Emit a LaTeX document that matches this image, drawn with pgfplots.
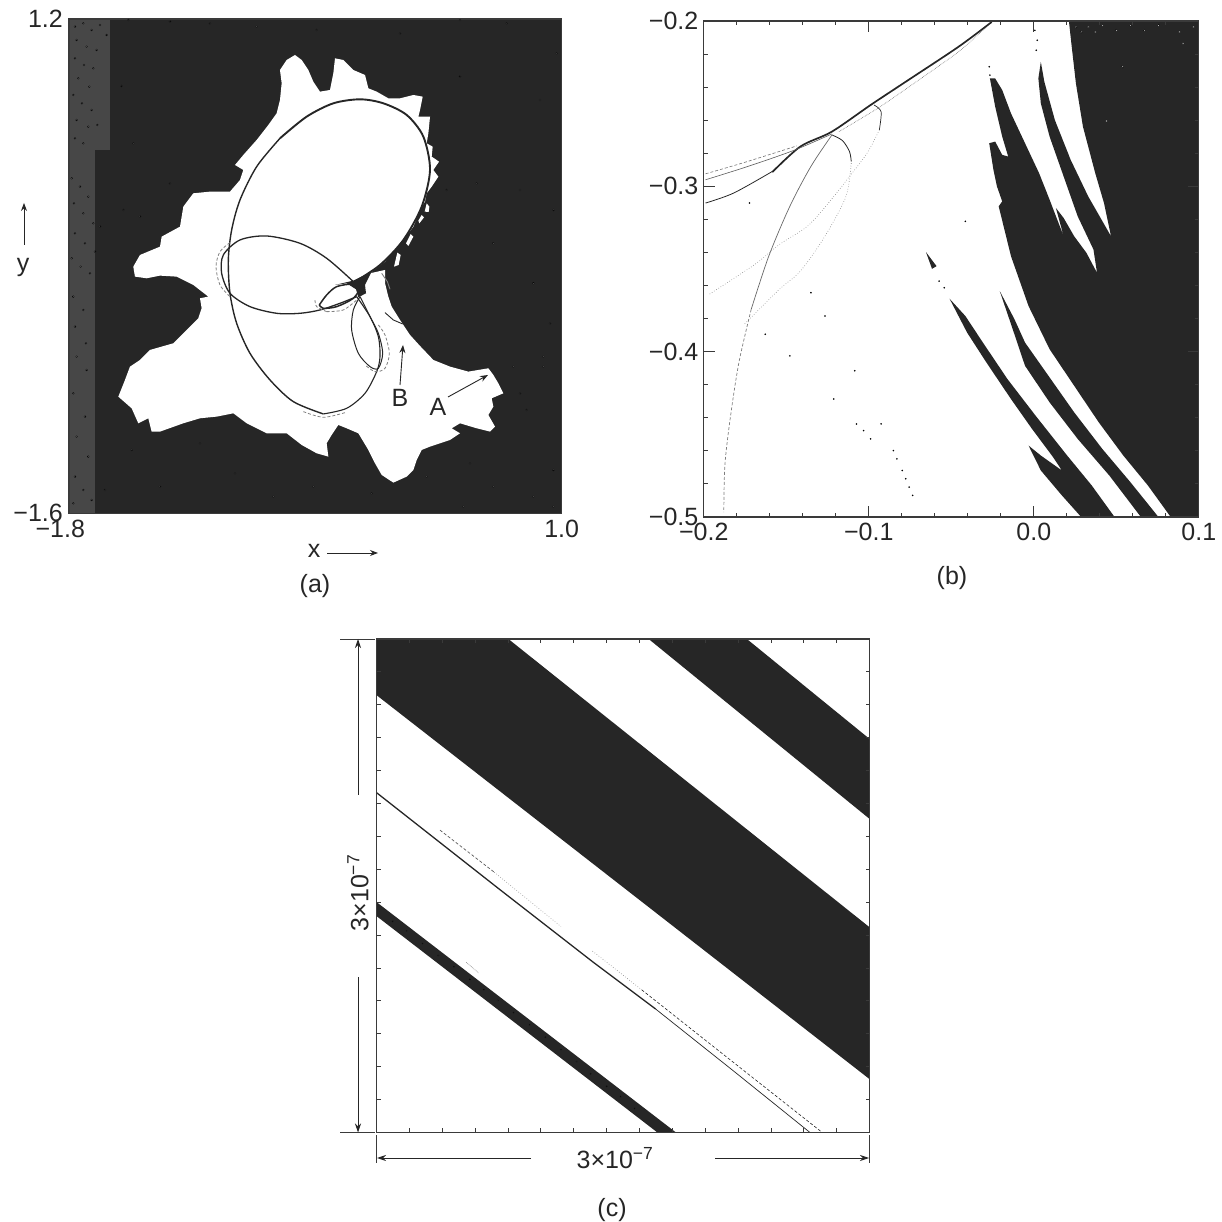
\documentclass[border=0pt]{standalone}
\usepackage{fontspec}
\setmainfont{Liberation Sans}
\usepackage{pgfplots}
\pgfplotsset{compat=1.18}
\usetikzlibrary{arrows.meta}
\definecolor{ink}{HTML}{262626}
\definecolor{frame}{HTML}{3A3A3A}
\def\ax{-1.8+(\thisrowno{0}-25)*2.8/1480}
\def\ay{1.2-(\thisrowno{1}-27)*2.8/1483}
\def\bx{-0.2+(\thisrowno{0}-125)*0.1/470}
\def\by{-0.2-(\thisrowno{1}-32)*0.3/1493}
\def\cx{3*(\thisrowno{0}-104)/1406}
\def\cy{3*(1447-\thisrowno{1})/1407}
\newcommand{\lab}{\fontsize{25}{28}\selectfont}
\pgfplotsset{
  panel/.style={scale only axis, axis on top, clip=true,
    axis line style={frame,line width=1.1pt},
    tick label style={font=\lab,text=ink},
    tick style={frame,line width=0.9pt}},
  apl/.style={x expr=\ax,y expr=\ay,row sep=\\}}
\begin{document}
\begin{tikzpicture}[x=1pt,y=1pt]
\path[use as bounding box] (0,0) rectangle (1222,1222);
%% ---------------- panel (a) ----------------
\begin{axis}[panel, at={(68.3pt,708.7pt)}, anchor=south west, width=493.4pt, height=494.3pt,
  xmin=-1.8,xmax=1.0,ymin=-1.6,ymax=1.2,
  axis background/.style={fill=ink},
  xtick={-1.8,1.0}, ytick={-1.6,1.2}, major tick length=0pt,
  xticklabels={{\makebox[0pt][c]{\hspace{-16pt}−1.8}},1.0},
  yticklabels={−1.6,1.2},
  xticklabel style={yshift=-3pt}, yticklabel style={xshift=-2pt}]
\addplot[fill=black!72,draw=none] table[x expr=\ax,y expr=\ay,row sep=\\]{28 27\\150 27\\150 420\\105 420\\105 1510\\28 1510\\28 27\\};
% basin of attraction, white
\addplot[fill=white,draw=none] table[x expr=\ax,y expr=\ay,row sep=\\]{
660 180\\680 150\\705 135\\725 150\\745 180\\760 215\\780 245\\810 240\\820 190\\825 145\\850 150\\880 180\\915 195\\925 235\\950 245\\985 265\\1020 265\\1060 255\\1088 260\\1080 300\\1075 320\\1110 320\\1105 370\\1100 400\\1118 410\\1115 440\\1137 455\\1120 480\\1135 500\\1115 530\\1100 550\\1095 575\\1085 590\\1060 650\\1030 690\\1000 725\\975 755\\930 790\\975 780\\975 820\\985 860\\995 890\\1020 930\\1050 975\\1080 1008\\1120 1050\\1170 1070\\1225 1085\\1285 1075\\1300 1095\\1315 1120\\1330 1150\\1295 1165\\1300 1190\\1285 1215\\1305 1250\\1290 1265\\1250 1255\\1200 1240\\1175 1255\\1200 1270\\1170 1290\\1110 1310\\1085 1320\\1070 1350\\1060 1380\\1040 1400\\1000 1418\\965 1395\\945 1360\\925 1320\\895 1270\\860 1255\\835 1245\\815 1275\\800 1300\\805 1340\\770 1330\\725 1305\\680 1270\\620 1270\\560 1240\\520 1210\\470 1220\\420 1225\\370 1240\\300 1265\\275 1265\\265 1225\\235 1240\\215 1195\\175 1160\\195 1110\\210 1070\\240 1050\\270 1020\\340 1000\\385 955\\415 925\\425 895\\420 865\\445 860\\400 825\\350 800\\300 797\\260 805\\225 800\\220 770\\240 735\\300 710\\305 680\\360 650\\370 590\\400 550\\450 545\\510 545\\540 510\\550 480\\525 465\\550 435\\590 390\\625 345\\650 310\\660 270\\665 220\\660 180\\};
% small white fingers beyond the edge
\addplot[fill=white,draw=none] table[x expr=\ax,y expr=\ay,row sep=\\]{1100 580\\1108 590\\1106 606\\1094 605\\1100 580\\};
\addplot[fill=white,draw=none] table[x expr=\ax,y expr=\ay,row sep=\\]{1085 615\\1092 622\\1078 640\\1075 632\\1085 615\\};
\addplot[fill=white,draw=none] table[x expr=\ax,y expr=\ay,row sep=\\]{1052 672\\1060 680\\1045 708\\1038 700\\1052 672\\};
\addplot[fill=white,draw=none] table[x expr=\ax,y expr=\ay,row sep=\\]{1012 728\\1022 735\\1016 765\\1002 770\\1012 728\\};
% speckle
\addplot[only marks,mark=*,mark size=0.9pt,mark options={draw=none,fill=white!62!black}] table[x expr=\ax,y expr=\ay,row sep=\\]{
45 50\\70 40\\95 60\\120 45\\140 75\\185 228\\50 90\\80 110\\110 120\\45 145\\72 165\\100 175\\55 205\\88 230\\40 255\\66 280\\95 300\\50 330\\85 350\\112 345\\45 385\\70 400\\35 505\\60 530\\85 560\\42 580\\70 610\\100 640\\120 650\\45 670\\75 700\\105 725\\35 745\\62 770\\90 790\\40 860\\70 900\\45 950\\78 1000\\50 1040\\80 1080\\40 1150\\75 1220\\50 1280\\85 1340\\45 1400\\70 1440\\40 1480\\95 1470\\135 1440\\215 1320\\300 1430\\420 1300\\525 1390\\640 1460\\760 1430\\935 1450\\1210 1490\\1300 1430\\1420 1460\\1480 1490\\1480 1380\\1450 1070\\1360 1070\\1450 1040\\1380 540\\1160 540\\1440 270\\1340 40\\1200 30\\1490 130\\1480 600\\1420 820\\1300 700\\1250 520\\1200 200\\1020 70\\770 60\\590 50\\450 40\\330 35\\205 30\\190 600\\220 400\\240 620\\330 520\\1100 1400\\1230 1360\\1400 1200\\1470 940\\1380 1150\\};
% orbit
\addplot[ink,line width=1.9pt,smooth] table[x expr=\ax,y expr=\ay,row sep=\\]{885 815\\960 765\\1030 690\\1085 590\\1110 480\\1090 380\\1040 315\\970 280\\900 268\\820 280\\740 320\\660 385\\};
\addplot[ink,line width=1.4pt,smooth] table[x expr=\ax,y expr=\ay,row sep=\\]{660 385\\590 470\\540 570\\515 660\\505 750\\510 850\\530 940\\570 1030\\630 1110\\700 1175\\790 1212\\};
\addplot[ink,line width=1.1pt,smooth] table[x expr=\ax,y expr=\ay,row sep=\\]{790 1212\\860 1195\\915 1150\\950 1085\\960 1040\\955 980\\930 920\\890 860\\};
\addplot[ink,line width=1.3pt,smooth] table[x expr=\ax,y expr=\ay,row sep=\\]{880 815\\800 745\\720 700\\620 678\\540 690\\490 735\\485 790\\510 850\\570 890\\650 910\\720 910\\780 900\\840 880\\890 860\\};
\addplot[ink,line width=1.5pt,smooth] table[x expr=\ax,y expr=\ay,row sep=\\]{778 885\\800 855\\830 830\\880 822\\900 832\\880 865\\830 890\\790 895\\778 885\\};
\addplot[ink,line width=1.0pt,smooth] table[x expr=\ax,y expr=\ay,row sep=\\]{900 860\\880 900\\875 960\\895 1030\\930 1070\\955 1075\\968 1030\\955 970\\930 920\\900 860\\};
\addplot[fill=ink,draw=none] table[x expr=\ax,y expr=\ay,row sep=\\]{825 825\\880 812\\935 785\\915 825\\918 850\\895 862\\888 838\\860 820\\825 825\\};
% outer strands
\addplot[gray,line width=0.8pt,densely dashed,smooth] table[x expr=\ax,y expr=\ay,row sep=\\]{510 698\\480 725\\468 770\\480 825\\510 860\\};
\addplot[gray,line width=0.8pt,densely dashed,smooth] table[x expr=\ax,y expr=\ay,row sep=\\]{800 905\\770 890\\765 870\\};
\addplot[gray,line width=0.8pt,densely dashed,smooth] table[x expr=\ax,y expr=\ay,row sep=\\]{800 905\\850 900\\890 870\\};
\addplot[gray,line width=0.8pt,densely dashed,smooth] table[x expr=\ax,y expr=\ay,row sep=\\]{955 945\\975 975\\988 1030\\975 1075\\945 1085\\915 1065\\};
\addplot[gray,line width=0.8pt,densely dashed,smooth] table[x expr=\ax,y expr=\ay,row sep=\\]{730 1205\\790 1222\\855 1208\\};
\addplot[gray,line width=0.9pt] table[x expr=\ax,y expr=\ay,row sep=\\]{965 790\\982 815\\990 838\\};
\addplot[ink,line width=0.9pt] table[x expr=\ax,y expr=\ay,row sep=\\]{975 908\\1000 930\\1028 942\\};
\end{axis}
\draw[-{Stealth[length=8pt,width=6pt]},ink,line width=0.9pt] (400,837) -- (403,877);
\draw[-{Stealth[length=8pt,width=6pt]},ink,line width=0.9pt] (448,825) -- (488,847);
\node[font=\fontsize{25}{28}\selectfont,text=ink] at (400,824) {B};
\node[font=\fontsize{25}{28}\selectfont,text=ink] at (438,815) {A};
\node[font=\lab,text=ink] at (23,954) {y};
\draw[-{Stealth[length=8pt,width=6pt]},ink,line width=0.9pt] (24,977) -- (24,1019);
\node[font=\lab,text=ink] at (314,671) {x};
\draw[-{Stealth[length=8pt,width=6pt]},ink,line width=0.9pt] (327,669) -- (378,669);
\node[font=\lab,text=ink] at (315,636) {(a)};
%% ---------------- panel (b) ----------------
\begin{axis}[panel, at={(703.8pt,705pt)}, anchor=south west, width=495pt, height=496pt,
  xmin=-0.2,xmax=0.1,ymin=-0.5,ymax=-0.2,
  xtick={-0.2,-0.1,0,0.1}, ytick={-0.5,-0.4,-0.3,-0.2},
  xticklabels={−0.2,−0.1,0.0,0.1}, yticklabels={−0.5,−0.4,−0.3,−0.2},
  minor xtick={-0.18,-0.16,-0.14,-0.12,-0.08,-0.06,-0.04,-0.02,0.02,0.04,0.06,0.08},
  minor ytick={-0.48,-0.46,-0.44,-0.42,-0.38,-0.36,-0.34,-0.32,-0.28,-0.26,-0.24,-0.22},
  tick align=inside, major tick length=11pt, minor tick length=4pt,
  xticklabel style={yshift=-3pt}, yticklabel style={xshift=-2pt}]
\addplot[fill=ink,draw=none] table[x expr=\bx,y expr=\by,row sep=\\]{
1165 32\\1535 32\\1535 1525\\1455 1525\\1390 1430\\1320 1340\\1250 1240\\1180 1130\\1110 1020\\1050 890\\1000 740\\965 590\\975 575\\960 530\\950 480\\938 400\\955 395\\975 435\\992 440\\975 380\\955 290\\940 205\\955 205\\975 240\\1000 310\\1040 400\\1080 490\\1110 570\\1130 625\\1150 680\\1128 595\\1150 625\\1180 680\\1215 730\\1245 790\\1235 720\\1190 620\\1150 500\\1110 380\\1085 280\\1078 205\\1085 155\\1095 215\\1125 330\\1170 450\\1220 560\\1285 680\\1265 580\\1240 490\\1205 350\\1185 220\\1172 100\\1165 32\\};
\addplot[fill=ink,draw=none] table[x expr=\bx,y expr=\by,row sep=\\]{968 845\\1010 930\\1040 1000\\1100 1090\\1180 1210\\1260 1320\\1340 1420\\1420 1525\\1370 1525\\1280 1400\\1190 1290\\1110 1180\\1040 1070\\1005 960\\968 845\\};
\addplot[fill=ink,draw=none] table[x expr=\bx,y expr=\by,row sep=\\]{825 868\\870 920\\920 1000\\990 1110\\1070 1220\\1160 1340\\1230 1430\\1295 1525\\1200 1525\\1145 1460\\1085 1385\\1050 1310\\1085 1340\\1145 1385\\1120 1345\\1060 1260\\1000 1170\\930 1060\\875 970\\825 868\\};
\addplot[fill=ink,draw=none] table[x expr=\bx,y expr=\by,row sep=\\]{758 728\\788 770\\775 778\\758 728\\};
% attractor
\addplot[ink,line width=1.7pt,smooth] table[x expr=\bx,y expr=\by,row sep=\\]{320 487\\400 410\\490 365\\600 285\\700 215\\850 110\\945 35\\};
\addplot[ink,line width=0.8pt,smooth] table[x expr=\bx,y expr=\by,row sep=\\]{130 580\\210 550\\320 485\\};
\addplot[ink!75,line width=0.6pt,smooth] table[x expr=\bx,y expr=\by,row sep=\\]{130 510\\250 470\\380 422\\490 372\\};
\addplot[ink!65,line width=0.6pt,smooth,densely dashed] table[x expr=\bx,y expr=\by,row sep=\\]{130 492\\240 458\\390 408\\};
\addplot[ink!65,line width=0.6pt,smooth,densely dotted] table[x expr=\bx,y expr=\by,row sep=\\]{510 365\\620 295\\730 215\\850 125\\930 50\\};
\addplot[ink,line width=0.8pt,smooth] table[x expr=\bx,y expr=\by,row sep=\\]{490 375\\520 392\\540 425\\545 455\\};
\addplot[ink!70,line width=0.7pt,smooth] table[x expr=\bx,y expr=\by,row sep=\\]{490 375\\430 470\\370 590\\310 740\\260 900\\};
\addplot[ink!60,line width=0.7pt,smooth,densely dashed] table[x expr=\bx,y expr=\by,row sep=\\]{260 900\\225 1060\\200 1230\\185 1370\\182 1510\\};
\addplot[ink,line width=0.7pt,smooth] table[x expr=\bx,y expr=\by,row sep=\\]{610 285\\630 305\\625 360\\};
\addplot[gray,line width=0.6pt,smooth,dotted] table[x expr=\bx,y expr=\by,row sep=\\]{625 360\\590 430\\540 500\\480 580\\420 650\\340 705\\270 765\\140 855\\};
\addplot[gray,line width=0.6pt,smooth,dotted] table[x expr=\bx,y expr=\by,row sep=\\]{545 460\\530 560\\470 680\\400 785\\340 840\\240 945\\};
\addplot[only marks,mark=*,mark size=0.6pt,mark options={draw=none,fill=gray!80}] table[x expr=\bx,y expr=\by,row sep=\\]{255 580\\300 975\\370 1040\\555 1085\\495 1170\\630 1245\\560 1245\\580 1265\\600 1290\\665 1325\\675 1350\\690 1385\\700 1410\\710 1435\\720 1460\\870 635\\430 850\\470 920\\1075 90\\1072 120\\1068 60\\938 170\\940 195\\795 815\\810 835\\};
\addplot[only marks,mark=*,mark size=1.1pt,mark options={draw=none,fill=white}] table[x expr=\bx,y expr=\by,row sep=\\]{1317 170\\1272 333\\1185 50\\1220 50\\1260 45\\1300 60\\1340 45\\1380 60\\1420 45\\1480 65\\1490 100\\1520 50\\1200 65\\1240 65\\};
\end{axis}
\node[font=\lab,text=ink] at (952,644) {(b)};
%% ---------------- panel (c) ----------------
\begin{axis}[panel, at={(376.5pt,89.5pt)}, anchor=south west, width=493.1pt, height=493.5pt,
  xmin=0,xmax=3,ymin=0,ymax=3,
  xtick={0,0.2,...,3.01}, ytick={0,0.2,...,3.01},
  xticklabels={}, yticklabels={},
  tick align=inside, major tick length=4pt]
\addplot[fill=ink,draw=none] table[x expr=\cx,y expr=\cy,row sep=\\]{880 40\\1160 40\\1510 325\\1510 553\\880 40\\};
\addplot[fill=ink,draw=none] table[x expr=\cx,y expr=\cy,row sep=\\]{104 40\\480 40\\1510 862\\1510 1295\\104 200\\104 40\\};
\addplot[fill=ink,draw=none] table[x expr=\cx,y expr=\cy,row sep=\\]{104 790\\958 1447\\905 1447\\104 830\\104 790\\};
\addplot[only marks,mark=*,mark size=0.7pt,mark options={draw=none,fill=gray!70}] table[x expr=\cx,y expr=\cy,row sep=\\]{150 845\\190 872\\235 908\\280 942\\325 975\\370 1010\\410 1040\\450 1070\\495 1105\\540 1140\\585 1175\\630 1210\\675 1245\\715 1280\\760 1315\\800 1345\\840 1378\\};
\addplot[ink,line width=1.3pt] table[x expr=\cx,y expr=\cy,row sep=\\]{104 478\\450 750\\720 960\\900 1095\\};
\addplot[ink,line width=0.7pt] table[x expr=\cx,y expr=\cy,row sep=\\]{900 1095\\1120 1270\\1340 1447\\};
\addplot[ink,line width=0.6pt,densely dashed] table[x expr=\cx,y expr=\cy,row sep=\\]{860 1040\\1100 1230\\1375 1447\\};
\addplot[gray,line width=0.6pt,dotted] table[x expr=\cx,y expr=\cy,row sep=\\]{720 930\\860 1040\\};
\addplot[ink!75,line width=0.7pt,densely dashed] table[x expr=\cx,y expr=\cy,row sep=\\]{285 585\\440 705\\};
\addplot[gray,line width=0.6pt,dotted] table[x expr=\cx,y expr=\cy,row sep=\\]{440 705\\630 860\\};
\addplot[gray,line width=0.6pt,densely dotted] table[x expr=\cx,y expr=\cy,row sep=\\]{360 962\\395 992\\};
\end{axis}
% dimension lines
\draw[frame,line width=0.9pt] (340,583) -- (375,583) (340,89.5) -- (375,89.5);
\draw[-{Stealth[length=9pt,width=6pt]},ink,line width=0.9pt] (358,427) -- (358,583);
\draw[-{Stealth[length=9pt,width=6pt]},ink,line width=0.9pt] (358,244.5) -- (358,89.5);
\node[font=\lab,text=ink,rotate=90] at (358,329) {3×10\textsuperscript{−7}};
\draw[frame,line width=0.9pt] (376.5,87) -- (376.5,59) (869.6,87) -- (869.6,59);
\draw[-{Stealth[length=9pt,width=6pt]},ink,line width=0.9pt] (531,64) -- (377,64);
\draw[-{Stealth[length=9pt,width=6pt]},ink,line width=0.9pt] (715,64) -- (869,64);
\node[font=\lab,text=ink] at (615,64) {3×10\textsuperscript{−7}};
\node[font=\lab,text=ink] at (612,12) {(c)};
\end{tikzpicture}
\end{document}
